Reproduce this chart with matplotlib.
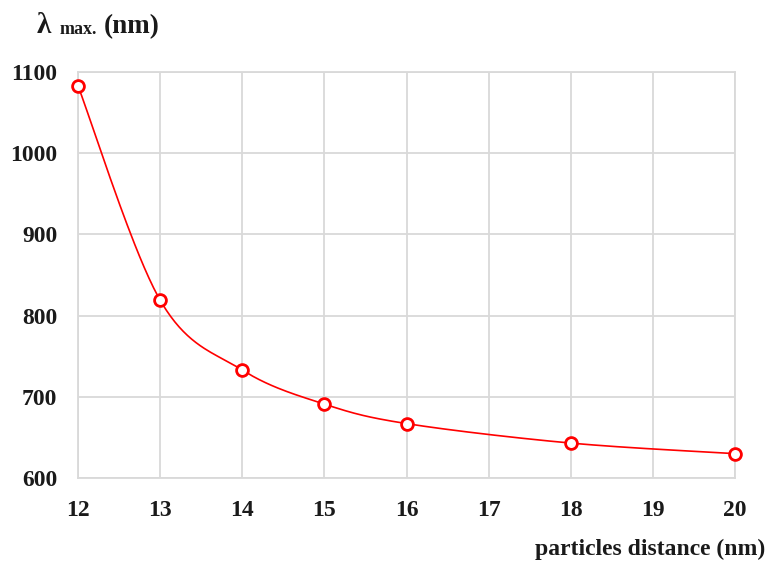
import numpy as np
import matplotlib
matplotlib.use("Agg")
import matplotlib.pyplot as plt

# particle spacing vs. plasmon peak position
distance_nm = [12, 13, 14, 15, 16, 18, 20]
lambda_max_nm = [1083, 819, 733, 691, 667, 643, 630]

x_ticks = [12, 13, 14, 15, 16, 17, 18, 19, 20]
y_ticks = [600, 700, 800, 900, 1000, 1100]

plt.rcParams.update({
    "font.family": "Liberation Serif",
    "font.weight": "bold",
})

RED = "#ff0000"
GRID = "#d9d9d9"
INK = "#1a1a1a"


def smooth_curve(xs, ys, xlim, ylim, n=40):
    """Catmull-Rom style smoothing (like a spreadsheet 'smoothed line'),
    computed in normalised axis space so the bend looks the same on screen."""
    x = (np.asarray(xs, float) - xlim[0]) / (xlim[1] - xlim[0])
    y = (np.asarray(ys, float) - ylim[0]) / (ylim[1] - ylim[0]) * 0.62
    pts = np.column_stack([x, y])
    out = []
    for i in range(len(pts) - 1):
        p0 = pts[i - 1] if i > 0 else pts[i]
        p1, p2 = pts[i], pts[i + 1]
        p3 = pts[i + 2] if i + 2 < len(pts) else pts[i + 1]
        c1 = p1 + (p2 - p0) / 6
        c2 = p2 - (p3 - p1) / 6
        t = np.linspace(0, 1, n)[:, None]
        seg = ((1 - t) ** 3 * p1 + 3 * (1 - t) ** 2 * t * c1
               + 3 * (1 - t) * t ** 2 * c2 + t ** 3 * p2)
        out.append(seg if i == 0 else seg[1:])
    out = np.vstack(out)
    sx = out[:, 0] * (xlim[1] - xlim[0]) + xlim[0]
    sy = out[:, 1] / 0.62 * (ylim[1] - ylim[0]) + ylim[0]
    return sx, sy


fig = plt.figure(figsize=(7.67, 5.62), dpi=100)
ax = fig.add_axes([78 / 767, 1 - 478 / 562, (735 - 78) / 767, (478 - 72) / 562])

xlim = (12, 20)
ylim = (600, 1100)

sx, sy = smooth_curve(distance_nm, lambda_max_nm, xlim, ylim)
ax.plot(sx, sy, color=RED, lw=1.2, zorder=3)
ax.plot(distance_nm, lambda_max_nm, ls="none", marker="o", ms=8.5,
        mfc="white", mec=RED, mew=2, zorder=4, clip_on=False)

ax.set_xlim(*xlim)
ax.set_ylim(*ylim)
ax.set_xticks(x_ticks)
ax.set_yticks(y_ticks)
ax.grid(True, color=GRID, lw=1.3)
ax.set_axisbelow(True)
for s in ax.spines.values():
    s.set_color(GRID)
    s.set_linewidth(1.3)
ax.tick_params(length=0, labelsize=17, colors=INK)
ax.tick_params(axis="y", pad=15)
ax.tick_params(axis="x", pad=16)

# axis captions
fig.text(37 / 767, 1 - 33 / 562, "λ", fontsize=21, fontweight="bold",
         va="baseline", color=INK)
fig.text(60 / 767, 1 - 34 / 562, "max.", fontsize=13, fontweight="bold",
         va="baseline", color=INK)
fig.text(104 / 767, 1 - 33 / 562, "(nm)", fontsize=19.5, fontweight="bold",
         va="baseline", color=INK)
fig.text(765 / 767, 1 - 555 / 562, "particles distance (nm)", fontsize=17,
         fontweight="bold", ha="right", va="baseline", color=INK)

fig.savefig("out.png", dpi=100, facecolor="white")
